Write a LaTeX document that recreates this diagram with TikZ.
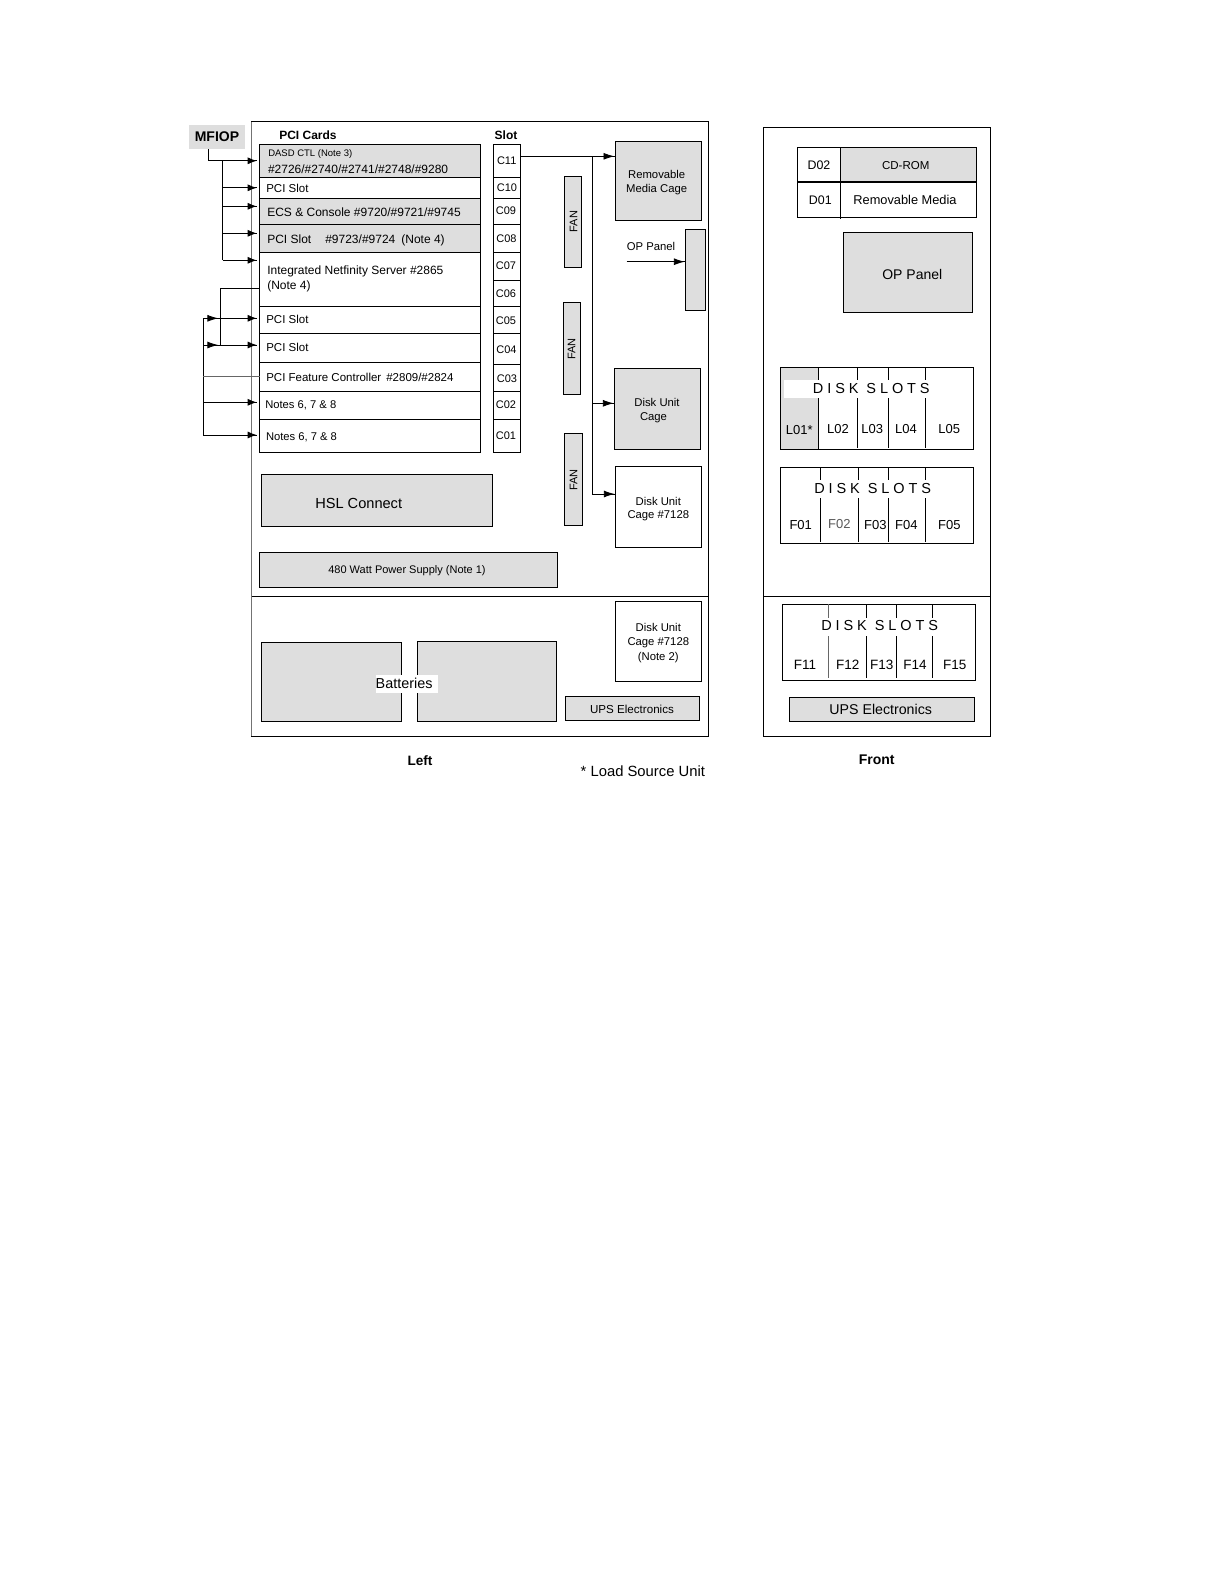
\documentclass[tikz,border=0pt]{standalone}
\usepackage{fontspec}
\setmainfont{Liberation Sans}
\newfontfamily\spacedfont[LetterSpace=27]{Liberation Sans}
\usetikzlibrary{arrows.meta,decorations.markings,calc}
\definecolor{panelgray}{HTML}{DEDEDE}
\newcommand{\fsz}[1]{\fontsize{#1}{#1}\selectfont}
\tikzset{
  wire/.style={line width=0.9pt,black},
  thinwire/.style={line width=0.7pt,black!60},
  arr/.style={wire,shorten >=3pt,postaction={decorate},decoration={markings,
      mark=at position -3pt with {\arrow{Latex[length=9pt,width=7pt]}}}},
  arrtwo/.style={wire,shorten >=3pt,postaction={decorate},decoration={markings,
      mark=at position 15pt with {\arrow{Latex[length=11pt,width=7pt]}},
      mark=at position -3pt with {\arrow{Latex[length=9pt,width=7pt]}}}},
  arrbox/.style={wire,postaction={decorate},decoration={markings,
      mark=at position -0.5pt with {\arrow{Latex[length=11pt,width=7pt]}}}},
  framebox/.style={draw=black,line width=0.9pt,inner sep=0pt,outer sep=0pt},
  graybox/.style={framebox,fill=panelgray},
  whitebox/.style={framebox,fill=white},
  txt/.style={inner sep=0pt,outer sep=0pt,align=center},
  ltxt/.style={inner sep=0pt,outer sep=0pt,anchor=west,align=left},
  band/.style={fill=white,inner sep=0pt,outer sep=0pt,minimum height=18pt},
  disktxt/.style={inner sep=0pt,outer sep=0pt,font=\spacedfont\fsz{14.5}},
}
\newcommand{\bx}[6][whitebox]{%
  \pgfmathsetmacro{\bxw}{#5-#3}\pgfmathsetmacro{\bxh}{#6-#4}%
  \pgfmathsetmacro{\bxcx}{(#3+#5)/2}\pgfmathsetmacro{\bxcy}{(#4+#6)/2}%
  \node[#1,minimum width=\bxw pt,minimum height=\bxh pt] (#2) at (\bxcx,\bxcy) {};}
\begin{document}
\begin{tikzpicture}[x=1pt,y=-1pt]
\useasboundingbox (0,0) rectangle (1222,1582);
\fill[white] (0,0) rectangle (1222,1582);

% ---------- left panel ----------
\bx{leftpanel}{251.6}{121.5}{708.7}{736.3}
\draw[line width=0.9pt,black!55] (leftpanel.north west) -- (leftpanel.south west);
\draw[wire] (leftpanel.west |- 0,596.3) -- (leftpanel.east |- 0,596.3);

% MFIOP
\node[fill=panelgray,inner sep=0pt,outer sep=0pt,minimum width=56pt,minimum height=24pt,font=\bfseries\fsz{14}] (mfiop) at (217,137) {MFIOP};

% PCI rows
\bx[graybox]{r1}{259.7}{144.3}{480.7}{177.3}
\bx{r2}{259.7}{177.3}{480.7}{198.3}
\bx[graybox]{r3}{259.7}{198.3}{480.7}{224.7}
\bx[graybox]{r4}{259.7}{224.7}{480.7}{252.7}
\bx{r5}{259.7}{252.7}{480.7}{306.3}
\bx{r6}{259.7}{306.3}{480.7}{333.3}
\bx{r7}{259.7}{333.3}{480.7}{362.7}
\bx{r8}{259.7}{362.7}{480.7}{391.3}
\bx{r9}{259.7}{391.3}{480.7}{419.3}
\bx{r10}{259.7}{419.3}{480.7}{452.3}

% Slot cells
\bx{c11}{493.3}{144.3}{520.3}{177.3}
\bx{c10}{493.3}{177.3}{520.3}{198.3}
\bx{c09}{493.3}{198.3}{520.3}{224.7}
\bx{c08}{493.3}{224.7}{520.3}{252.7}
\bx{c07}{493.3}{252.7}{520.3}{280}
\bx{c06}{493.3}{280}{520.3}{306.3}
\bx{c05}{493.3}{306.3}{520.3}{333.3}
\bx{c04}{493.3}{333.3}{520.3}{364}
\bx{c03}{493.3}{364}{520.3}{391.3}
\bx{c02}{493.3}{391.3}{520.3}{419.3}
\bx{c01}{493.3}{419.3}{520.3}{452.3}

% Right column of left panel
\bx[graybox]{rmc}{615}{141.3}{701.7}{220.3}
\bx[graybox]{oprect}{685.3}{229.3}{705.7}{310.3}
\bx[graybox]{fan1}{564.3}{176.3}{581.3}{267.3}
\bx[graybox]{fan2}{563.3}{302.3}{580.3}{394.3}
\bx[graybox]{fan3}{564.3}{433.3}{582.7}{525.3}
\bx[graybox]{duc}{614.3}{368.3}{700.7}{449.3}
\bx{duca}{615.3}{466.3}{701.7}{547.3}
\bx[graybox]{hsl}{261.3}{474.3}{492.7}{526.3}
\bx[graybox]{psu}{259.3}{552.3}{557.7}{587.3}
\bx{ducb}{615.3}{601.3}{701.7}{681.3}
\bx[graybox]{bat1}{261.3}{642.3}{401.7}{721.3}
\bx[graybox]{bat2}{417.3}{641.3}{556.7}{721.3}
\bx[graybox]{upsl}{565.3}{696.3}{699.7}{720.3}

% Connectors: MFIOP bus
\coordinate (m0) at (208.3,149);
\coordinate (j1) at (222.7,160.8);
\coordinate (j2) at (222.7,187.8);
\coordinate (j3) at (222.7,206.3);
\coordinate (j4) at (222.7,233.3);
\coordinate (j5) at (222.7,260.3);
\draw[arr] (m0) |- (r1.west);
\draw[wire] (j1) -- (j5);
\draw[arr] (j2) -- (r2.west);
\draw[arr] (j3) -- (j3 -| r3.west);
\draw[arr] (j4) -- (j4 -| r4.west);
\draw[arr] (j5) -- (j5 -| r5.west);

% Connectors: second and third bus
\coordinate (k0) at (220,288.3);
\coordinate (k2) at (220,345);
\coordinate (n1) at (203.3,318.3);
\coordinate (n2) at (203.3,345);
\coordinate (n3) at (203.3,376.3);
\coordinate (n4) at (203.3,402.3);
\coordinate (n5) at (203.3,435);
\draw[wire] (k0 -| r5.west) -- (k0) -- (k2);
\draw[arrtwo] (n1) -- (n1 -| r6.west);
\draw[arrtwo] (n2) -- (n2 -| r7.west);
\draw[wire] (n1) -- (n5);
\draw[thinwire] (n3) -- (n3 -| r8.west);
\draw[arr] (n4) -- (n4 -| r9.west);
\draw[arr] (n5) -- (n5 -| r10.west);

% Connectors: C11 bus
\coordinate (b0) at (592.3,156.3);
\coordinate (b1) at (592.3,403.3);
\coordinate (b2) at (592.3,494);
\coordinate (opin) at (626.7,261.7);
\draw[arrbox] (c11.east |- b0) -- (b0 -| rmc.west);
\draw[wire] (b0) -- (b2);
\draw[arrbox] (b1) -- (b1 -| duc.west);
\draw[arrbox] (b2) -- (b2 -| duca.west);
\draw[arrbox] (opin) -- (opin -| oprect.west);

% Left panel text
\node[txt,font=\bfseries\fsz{12}] (tpci) at (308,135.7) {PCI Cards};
\node[txt,font=\bfseries\fsz{12}] (tslot) at (506,134.9) {Slot};
\node[ltxt,font=\fsz{9.5}] (t1a) at (268.3,154) {DASD CTL (Note 3)};
\node[ltxt,font=\fsz{12}] (t1b) at (268,169.5) {\#2726/\#2740/\#2741/\#2748/\#9280};
\node[ltxt,font=\fsz{11.5}] (t2) at (266.3,188) {PCI Slot};
\node[ltxt,font=\fsz{12}] (t3) at (267.3,212) {ECS \& Console \#9720/\#9721/\#9745};
\node[ltxt,font=\fsz{12}] (t4) at (267.3,240) {PCI Slot\hspace{14pt}\#9723/\#9724\hspace{6pt}(Note 4)};
\node[ltxt,font=\fontsize{12}{15}\selectfont] (t5) at (267.3,279) {Integrated Netfinity Server \#2865\\(Note 4)};
\node[ltxt,font=\fsz{11.5}] (t6) at (266.3,319.7) {PCI Slot};
\node[ltxt,font=\fsz{11.5}] (t7) at (266.3,347.3) {PCI Slot};
\node[ltxt,font=\fsz{11.5}] (t8) at (266.3,377.3) {PCI Feature Controller\hspace{5pt}\#2809/\#2824};
\node[ltxt,font=\fsz{11.2}] (t9) at (265.3,405) {Notes 6, 7 \& 8};
\node[ltxt,font=\fsz{11.2}] (t10) at (266,437.3) {Notes 6, 7 \& 8};

\node[txt,font=\fsz{11}] (tc11) at (506.7,161) {C11};
\node[txt,font=\fsz{11}] (tc10) at (507,187.6) {C10};
\node[txt,font=\fsz{11}] (tc09) at (506,211) {C09};
\node[txt,font=\fsz{11}] (tc08) at (506.5,239) {C08};
\node[txt,font=\fsz{11}] (tc07) at (506,265.9) {C07};
\node[txt,font=\fsz{11}] (tc06) at (506,293.5) {C06};
\node[txt,font=\fsz{11}] (tc05) at (506,320.9) {C05};
\node[txt,font=\fsz{11}] (tc04) at (506.5,349.6) {C04};
\node[txt,font=\fsz{11}] (tc03) at (507,378.5) {C03};
\node[txt,font=\fsz{11}] (tc02) at (506,405) {C02};
\node[txt,font=\fsz{11}] (tc01) at (506,435.6) {C01};

\node[txt,font=\fontsize{11.3}{13.3}\selectfont] (trmc) at (656.7,182.5) {Removable\\Media Cage};
\node[txt,font=\fsz{11.3}] (topl) at (651,246) {OP Panel};
\node[txt,rotate=90,font=\fsz{11}] (tf1) at (573.5,221.5) {FAN};
\node[txt,rotate=90,font=\fsz{11}] (tf2) at (571.5,349) {FAN};
\node[txt,rotate=90,font=\fsz{11}] (tf3) at (573.5,480) {FAN};
\node[txt,font=\fontsize{11.3}{14}\selectfont] (tduc) at (657,410.8) {Disk Unit\\\hspace*{-7pt}Cage};
\node[txt,font=\fontsize{11.3}{13.6}\selectfont] (tduca) at (658.3,509) {Disk Unit\\Cage \#7128};
\node[txt,font=\fontsize{11.3}{14.5}\selectfont] (tducb) at (658.3,642.7) {Disk Unit\\Cage \#7128\\(Note 2)};
\node[txt,font=\fsz{14.6}] (thsl) at (358.7,503.3) {HSL Connect};
\node[txt,font=\fsz{11}] (tpsu) at (407,571) {480 Watt Power Supply (Note 1)};
\node[ltxt,fill=white,minimum height=17.7pt,text width=62pt,font=\fsz{14.4}] (tbat) at (375.7,683.8) {Batteries};
\node[txt,font=\fsz{11.6}] (tupsl) at (632,709) {UPS Electronics};
\node[txt,font=\bfseries\fsz{13.6}] (tleft) at (420,760.3) {Left};
\node[ltxt,font=\fsz{14.8}] (tload) at (580.7,771) {* Load Source Unit};

% ---------- right panel ----------
\bx{rightpanel}{763.3}{127.3}{990.7}{736.3}
\draw[wire] (rightpanel.west |- 0,596.3) -- (rightpanel.east |- 0,596.3);

% D table
\bx{d02}{797.3}{147.3}{840.7}{181.7}
\bx[graybox]{cdrom}{840.7}{147.3}{976.7}{181.7}
\bx{d01}{797.3}{181.7}{840.7}{217.3}
\bx{rmedia}{840.7}{181.7}{976.7}{217.3}
\draw[line width=1.6pt] (d01.north west) -- (rmedia.north east);
\coordinate (dtail) at (840.7,219);
\draw[wire] (d01.south east) -- (dtail);
\node[txt,font=\fsz{12.4}] (td02) at (819,165.7) {D02};
\node[txt,font=\fsz{11.5}] (tcd) at (905.7,165.7) {CD-ROM};
\node[txt,font=\fsz{12.4}] (td01) at (820.3,200) {D01};
\node[txt,font=\fsz{12.8}] (trm) at (905,200) {Removable Media};

\bx[graybox]{oppanel}{843.3}{232.3}{972.7}{312.3}
\node[txt,font=\fsz{14}] (topp) at (912.3,274.7) {OP Panel};

% L disk slots
\bx{lslots}{780.3}{367.3}{973.7}{449.3}
\bx[graybox]{l01}{780.3}{367.3}{818.7}{449.3}
\foreach \nm/\vx in {lv1/818.7,lv2/857.3,lv3/888.3,lv4/925.3}{
  \coordinate (\nm t) at (\vx,367.3); \coordinate (\nm b) at (\vx,447.7);
  \draw[wire] (\nm t) -- (\nm b);}
\node[band,minimum width=148pt] (bandl) at (858,389) {};
\node[disktxt] (tdl) at (871.3,389) {DISK SLOTS};
\node[txt,font=\fsz{13}] (tl1) at (799.3,429.7) {L01*};
\node[txt,font=\fsz{13}] (tl2) at (838,429.3) {L02};
\node[txt,font=\fsz{13}] (tl3) at (872.3,429.3) {L03};
\node[txt,font=\fsz{13}] (tl4) at (906,429.3) {L04};
\node[txt,font=\fsz{13}] (tl5) at (949.3,429.3) {L05};

% F0x disk slots
\bx{fslots}{780.3}{467.7}{973.7}{543.3}
\foreach \nm/\vx in {fv1/820.3,fv2/858.3,fv3/888.3,fv4/925.7}{
  \coordinate (\nm t) at (\vx,467.7); \coordinate (\nm b) at (\vx,541.7);
  \draw[wire] (\nm t) -- (\nm b);}
\node[band,minimum width=122pt] (bandf) at (872.7,488.7) {};
\node[disktxt] (tdf) at (872.7,488.7) {DISK SLOTS};
\node[txt,font=\fsz{13}] (tf01) at (800.7,525.3) {F01};
\node[txt,font=\fsz{13},text=black!65] (tf02) at (839.3,524) {F02};
\node[txt,font=\fsz{13}] (tf03) at (875.3,525.3) {F03};
\node[txt,font=\fsz{13}] (tf04) at (906.3,525.3) {F04};
\node[txt,font=\fsz{13}] (tf05) at (949.3,525.3) {F05};

% F1x disk slots
\bx{gslots}{782.3}{604.3}{975.7}{680.3}
\coordinate (gv1t) at (828.3,604.3); \coordinate (gv1b) at (828.3,677.7);
\draw[thinwire] (gv1t) -- (gv1b);
\foreach \nm/\vx in {gv2/866.7,gv3/896.3,gv4/932.3}{
  \coordinate (\nm t) at (\vx,604.3); \coordinate (\nm b) at (\vx,677.7);
  \draw[wire] (\nm t) -- (\nm b);}
\node[band,minimum width=122pt] (bandg) at (879.7,626.5) {};
\node[disktxt] (tdg) at (879.7,625.7) {DISK SLOTS};
\node[txt,font=\fsz{13.5}] (tf11) at (805,665) {F11};
\node[txt,font=\fsz{13.5}] (tf12) at (847.7,665) {F12};
\node[txt,font=\fsz{13.5}] (tf13) at (881.7,665) {F13};
\node[txt,font=\fsz{13.5}] (tf14) at (915,665) {F14};
\node[txt,font=\fsz{13.5}] (tf15) at (954.7,665) {F15};

\bx[graybox]{upsr}{789.3}{697.3}{974.7}{721.7}
\node[txt,font=\fsz{14.2}] (tupsr) at (880.7,709.7) {UPS Electronics};
\node[txt,font=\bfseries\fsz{14}] (tfront) at (876.7,760) {Front};
\end{tikzpicture}
\end{document}
